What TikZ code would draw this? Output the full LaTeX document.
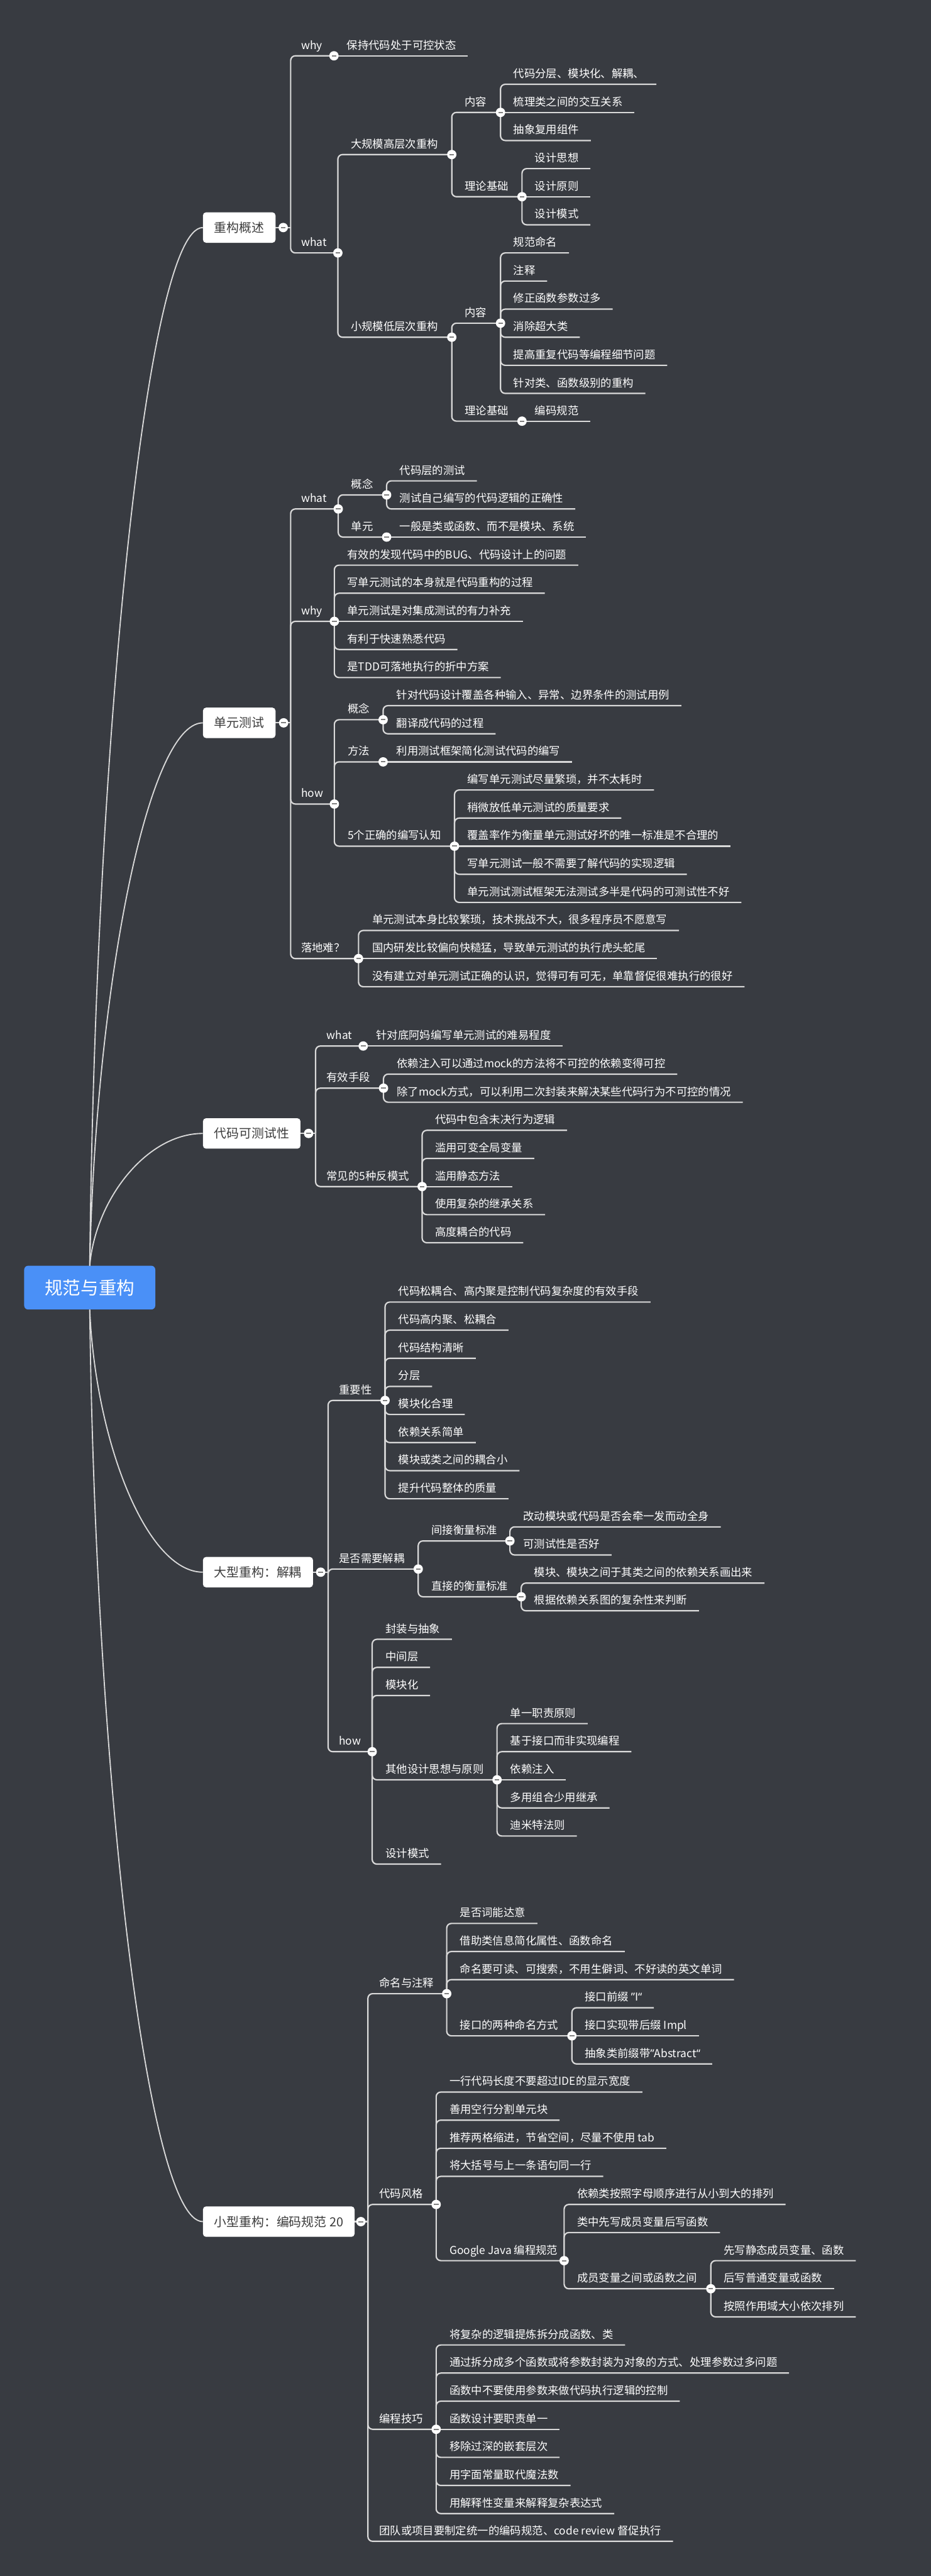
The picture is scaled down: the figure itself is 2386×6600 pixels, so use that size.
\documentclass[tikz,border=0pt]{standalone}
\usepackage{fontspec}
\newfontfamily\cjk{Noto Sans CJK SC}
\newfontfamily\latn{Noto Sans}
\usetikzlibrary{calc}
\pgfdeclarelayer{fg}
\pgfsetlayers{main,fg}
\definecolor{bg}{HTML}{383B41}
\definecolor{ln}{HTML}{D9D9D9}
\definecolor{rootblue}{HTML}{4A90F7}
\definecolor{boxtxt}{HTML}{3C3C3C}
\definecolor{mk}{HTML}{7F7F7F}
\tikzset{
 lbl/.style={anchor=base west, inner sep=0pt, text=white, font=\cjk\fontsize{28}{32}\selectfont},
 conn/.style={draw=ln, line width=3.5pt, rounded corners=12pt},
 curve/.style={draw=ln, line width=3pt},
 dot/.style={circle, fill=white, minimum size=24pt, inner sep=0pt},
 mbox/.style={anchor=west, fill=white, rounded corners=8pt, minimum height=78pt, inner xsep=29pt, text=boxtxt, font=\cjk\fontsize{32}{36}\selectfont},
 rootbox/.style={fill=rootblue, rounded corners=10pt, minimum width=336pt, minimum height=112pt, text=white, font=\cjk\fontsize{46}{50}\selectfont},
}
\newcommand\mmdot[1]{\begin{pgfonlayer}{fg}\node[dot] (#1-d) at (#1) {};\fill[mk] ($(#1)+(-6,-1.6)$) rectangle ($(#1)+(6,1.6)$);\end{pgfonlayer}}
\newcommand\mmleaf[5]{\node[lbl] (#1) at (#3,#4-17) {#5};\coordinate (#1-e) at ($(#1.base east)+(30,17)$);\draw[conn] (#2) |- (#1-e);}
\newcommand\mmleafs[5]{\node[lbl] (#1) at (#3,#4-17) {#5};\coordinate (#1-e) at ($(#1.base east)+(30,17)$);\draw[conn] (#2) -- (#1-e);}
\newcommand\mmbranch[6]{\node[lbl] (#1) at (#3,#4-17) {#6};\coordinate (#1-c) at (#5,#4);\draw[conn] (#2) |- (#1-c);\mmdot{#1-c}}
\newcommand\mmmain[5]{\node[mbox] (#1) at (520,#2) {#3};\coordinate (#1-c) at (#4,#2);\coordinate (#1-v) at (#5,#2);\draw[conn] (#1.east) -- (#1-v);\mmdot{#1-c}}
\begin{document}
\begin{tikzpicture}[x=1pt,y=-1pt]
\fill[bg] (0,0) rectangle (2386,6600);
\useasboundingbox (0,0) rectangle (2386,6600);
% root
\node[rootbox] (root) at (230,3299) {规范与重构};
% ---------- section 1
\mmmain{m1}{583}{重构概述}{726}{745}
\mmbranch{a1}{m1-v}{772}{143}{856}{why}
\mmleafs{a11}{a1-c}{889}{143}{保持代码处于可控状态}
\mmbranch{a2}{m1-v}{772}{648}{866}{what}
\mmbranch{a21}{a2-c}{899}{396}{1158}{大规模高层次重构}
\mmbranch{a211}{a21-c}{1191}{288}{1283}{内容}
\mmleaf{a2111}{a211-c}{1316}{216}{代码分层、模块化、解耦、}
\mmleafs{a2112}{a211-c}{1316}{288}{梳理类之间的交互关系}
\mmleaf{a2113}{a211-c}{1316}{360}{抽象复用组件}
\mmbranch{a212}{a21-c}{1191}{504}{1338}{理论基础}
\mmleaf{a2121}{a212-c}{1371}{432}{设计思想}
\mmleafs{a2122}{a212-c}{1371}{504}{设计原则}
\mmleaf{a2123}{a212-c}{1371}{576}{设计模式}
\mmbranch{a22}{a2-c}{899}{864}{1158}{小规模低层次重构}
\mmbranch{a221}{a22-c}{1191}{828}{1283}{内容}
\mmleaf{a2211}{a221-c}{1316}{648}{规范命名}
\mmleaf{a2212}{a221-c}{1316}{720}{注释}
\mmleaf{a2213}{a221-c}{1316}{792}{修正函数参数过多}
\mmleaf{a2214}{a221-c}{1316}{864}{消除超大类}
\mmleaf{a2215}{a221-c}{1316}{936}{提高重复代码等编程细节问题}
\mmleaf{a2216}{a221-c}{1316}{1008}{针对类、函数级别的重构}
\mmbranch{a222}{a22-c}{1191}{1079}{1338}{理论基础}
\mmleafs{a2221}{a222-c}{1371}{1079}{编码规范}
% ---------- section 2
\mmmain{m2}{1852}{单元测试}{727}{745}
\mmbranch{b1}{m2-v}{772}{1304}{867}{what}
\mmbranch{b11}{b1-c}{900}{1268}{991}{概念}
\mmleaf{b111}{b11-c}{1024}{1232}{代码层的测试}
\mmleaf{b112}{b11-c}{1024}{1304}{测试自己编写的代码逻辑的正确性}
\mmbranch{b12}{b1-c}{900}{1376}{991}{单元}
\mmleafs{b121}{b12-c}{1024}{1376}{一般是类或函数、而不是模块、系统}
\mmbranch{b2}{m2-v}{772}{1592}{857}{why}
\mmleaf{b21}{b2-c}{890}{1448}{有效的发现代码中的BUG、代码设计上的问题}
\mmleaf{b22}{b2-c}{890}{1520}{写单元测试的本身就是代码重构的过程}
\mmleafs{b23}{b2-c}{890}{1592}{单元测试是对集成测试的有力补充}
\mmleaf{b24}{b2-c}{890}{1664}{有利于快速熟悉代码}
\mmleaf{b25}{b2-c}{890}{1736}{是TDD可落地执行的折中方案}
\mmbranch{b3}{m2-v}{772}{2060}{857}{how}
\mmbranch{b31}{b3-c}{891}{1844}{982}{概念}
\mmleaf{b311}{b31-c}{1016}{1808}{针对代码设计覆盖各种输入、异常、边界条件的测试用例}
\mmleaf{b312}{b31-c}{1016}{1880}{翻译成代码的过程}
\mmbranch{b32}{b3-c}{891}{1952}{982}{方法}
\mmleafs{b321}{b32-c}{1016}{1952}{利用测试框架简化测试代码的编写}
\mmbranch{b33}{b3-c}{891}{2168}{1165}{5个正确的编写认知}
\mmleaf{b331}{b33-c}{1198}{2024}{编写单元测试尽量繁琐，并不太耗时}
\mmleaf{b332}{b33-c}{1198}{2096}{稍微放低单元测试的质量要求}
\mmleafs{b333}{b33-c}{1198}{2168}{覆盖率作为衡量单元测试好坏的唯一标准是不合理的}
\mmleaf{b334}{b33-c}{1198}{2240}{写单元测试一般不需要了解代码的实现逻辑}
\mmleaf{b335}{b33-c}{1198}{2312}{单元测试测试框架无法测试多半是代码的可测试性不好}
\mmbranch{b4}{m2-v}{772}{2456}{919}{落地难？}
\mmleaf{b41}{b4-c}{954}{2384}{单元测试本身比较繁琐，技术挑战不大，很多程序员不愿意写}
\mmleafs{b42}{b4-c}{954}{2456}{国内研发比较偏向快糙猛，导致单元测试的执行虎头蛇尾}
\mmleaf{b43}{b4-c}{954}{2528}{没有建立对单元测试正确的认识，觉得可有可无，单靠督促很难执行的很好}
% ---------- section 3
\mmmain{m3}{2904}{代码可测试性}{791}{809}
\mmbranch{c1}{m3-v}{837}{2680}{931}{what}
\mmleafs{c11}{c1-c}{964}{2680}{针对底阿妈编写单元测试的难易程度}
\mmbranch{c2}{m3-v}{837}{2788}{983}{有效手段}
\mmleaf{c21}{c2-c}{1017}{2752}{依赖注入可以通过mock的方法将不可控的依赖变得可控}
\mmleaf{c22}{c2-c}{1017}{2824}{除了mock方式，可以利用二次封装来解决某些代码行为不可控的情况}
\mmbranch{c3}{m3-v}{837}{3040}{1082}{常见的5种反模式}
\mmleaf{c31}{c3-c}{1115}{2896}{代码中包含未决行为逻辑}
\mmleaf{c32}{c3-c}{1115}{2968}{滥用可变全局变量}
\mmleafs{c33}{c3-c}{1115}{3040}{滥用静态方法}
\mmleaf{c34}{c3-c}{1115}{3112}{使用复杂的继承关系}
\mmleaf{c35}{c3-c}{1115}{3184}{高度耦合的代码}
% ---------- section 4
\mmmain{m4}{4028}{大型重构：解耦}{822}{841}
\mmbranch{d1}{m4-v}{869}{3588}{987}{重要性}
\mmleaf{d11}{d1-c}{1021}{3336}{代码松耦合、高内聚是控制代码复杂度的有效手段}
\mmleaf{d12}{d1-c}{1021}{3408}{代码高内聚、松耦合}
\mmleaf{d13}{d1-c}{1021}{3480}{代码结构清晰}
\mmleaf{d14}{d1-c}{1021}{3552}{分层}
\mmleaf{d15}{d1-c}{1021}{3624}{模块化合理}
\mmleaf{d16}{d1-c}{1021}{3696}{依赖关系简单}
\mmleaf{d17}{d1-c}{1021}{3768}{模块或类之间的耦合小}
\mmleaf{d18}{d1-c}{1021}{3840}{提升代码整体的质量}
\mmbranch{d2}{m4-v}{869}{4020}{1072}{是否需要解耦}
\mmbranch{d21}{d2-c}{1106}{3948}{1307}{间接衡量标准}
\mmleaf{d211}{d21-c}{1341}{3912}{改动模块或代码是否会牵一发而动全身}
\mmleaf{d212}{d21-c}{1341}{3984}{可测试性是否好}
\mmbranch{d22}{d2-c}{1106}{4091}{1336}{直接的衡量标准}
\mmleaf{d221}{d22-c}{1369}{4056}{模块、模块之间于其类之间的依赖关系画出来}
\mmleaf{d222}{d22-c}{1369}{4127}{根据依赖关系图的复杂性来判断}
\mmbranch{d3}{m4-v}{869}{4488}{954}{how}
\mmleaf{d31}{d3-c}{988}{4200}{封装与抽象}
\mmleaf{d32}{d3-c}{988}{4272}{中间层}
\mmleaf{d33}{d3-c}{988}{4344}{模块化}
\mmbranch{d34}{d3-c}{988}{4560}{1274}{其他设计思想与原则}
\mmleaf{d341}{d34-c}{1308}{4416}{单一职责原则}
\mmleaf{d342}{d34-c}{1308}{4488}{基于接口而非实现编程}
\mmleafs{d343}{d34-c}{1308}{4560}{依赖注入}
\mmleaf{d344}{d34-c}{1308}{4632}{多用组合少用继承}
\mmleaf{d345}{d34-c}{1308}{4704}{迪米特法则}
\mmleaf{d35}{d3-c}{988}{4776}{设计模式}
% ---------- section 5
\mmmain{m5}{5692}{小型重构：编码规范 20}{925}{943}
\mmbranch{e1}{m5-v}{972}{5108}{1145}{命名与注释}
\mmleaf{e11}{e1-c}{1179}{4928}{是否词能达意}
\mmleaf{e12}{e1-c}{1179}{5000}{借助类信息简化属性、函数命名}
\mmleaf{e13}{e1-c}{1179}{5072}{命名要可读、可搜索，不用生僻词、不好读的英文单词}
\mmbranch{e14}{e1-c}{1179}{5216}{1466}{接口的两种命名方式}
\mmleaf{e141}{e14-c}{1499}{5144}{接口前缀 {\latn ”}I{\latn “}}
\mmleafs{e142}{e14-c}{1499}{5216}{接口实现带后缀 Impl}
\mmleaf{e143}{e14-c}{1499}{5288}{抽象类前缀带{\latn ”}Abstract{\latn “}}
\mmbranch{e2}{m5-v}{972}{5648}{1118}{代码风格}
\mmleaf{e21}{e2-c}{1152}{5360}{一行代码长度不要超过IDE的显示宽度}
\mmleaf{e22}{e2-c}{1152}{5432}{善用空行分割单元块}
\mmleaf{e23}{e2-c}{1152}{5504}{推荐两格缩进，节省空间，尽量不使用 tab}
\mmleaf{e24}{e2-c}{1152}{5576}{将大括号与上一条语句同一行}
\mmbranch{e25}{e2-c}{1152}{5792}{1446}{Google Java 编程规范}
\mmleaf{e251}{e25-c}{1479}{5648}{依赖类按照字母顺序进行从小到大的排列}
\mmleaf{e252}{e25-c}{1479}{5720}{类中先写成员变量后写函数}
\mmbranch{e253}{e25-c}{1479}{5864}{1822}{成员变量之间或函数之间}
\mmleaf{e2531}{e253-c}{1855}{5792}{先写静态成员变量、函数}
\mmleafs{e2532}{e253-c}{1855}{5864}{后写普通变量或函数}
\mmleaf{e2533}{e253-c}{1855}{5936}{按照作用域大小依次排列}
\mmbranch{e3}{m5-v}{972}{6224}{1118}{编程技巧}
\mmleaf{e31}{e3-c}{1152}{6008}{将复杂的逻辑提炼拆分成函数、类}
\mmleaf{e32}{e3-c}{1152}{6080}{通过拆分成多个函数或将参数封装为对象的方式、处理参数过多问题}
\mmleaf{e33}{e3-c}{1152}{6152}{函数中不要使用参数来做代码执行逻辑的控制}
\mmleafs{e34}{e3-c}{1152}{6224}{函数设计要职责单一}
\mmleaf{e35}{e3-c}{1152}{6296}{移除过深的嵌套层次}
\mmleaf{e36}{e3-c}{1152}{6368}{用字面常量取代魔法数}
\mmleaf{e37}{e3-c}{1152}{6440}{用解释性变量来解释复杂表达式}
\mmleaf{e4}{m5-v}{972}{6511}{团队或项目要制定统一的编码规范、code review 督促执行}
% ---------- root curves
\draw[curve] (root.north) .. controls (244.5,1913) and (375,583) .. (m1.west);
\draw[curve] (root.north) .. controls (244.6,2547.5) and (376,1852) .. (m2.west);
\draw[curve] (root.north) .. controls (244.5,3073.5) and (375.5,2904) .. (m3.west);
\draw[curve] (root.south) .. controls (244.5,3691.5) and (375,4028) .. (m4.west);
\draw[curve] (root.south) .. controls (244.5,4523.5) and (375,5692) .. (m5.west);
\end{tikzpicture}
\end{document}
